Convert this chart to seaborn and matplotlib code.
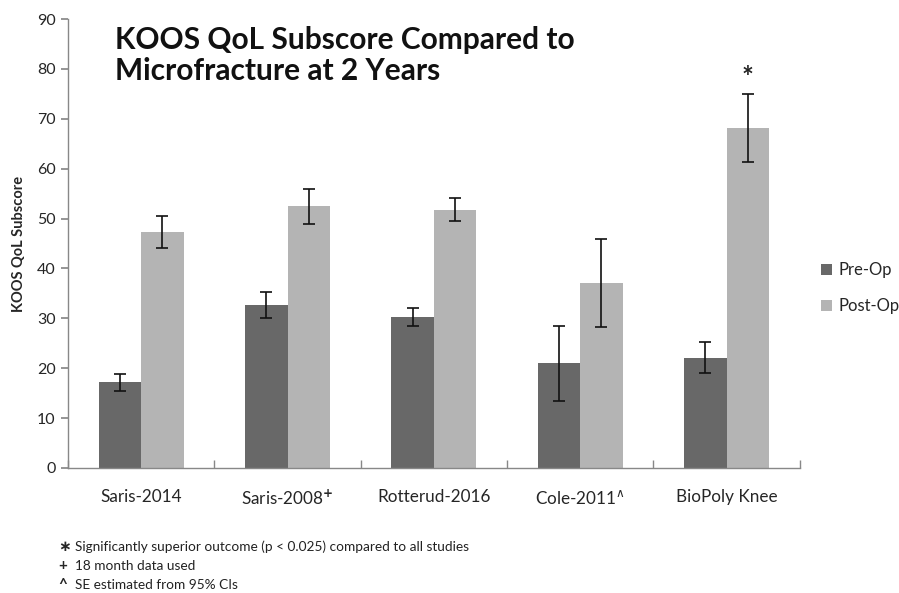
import pandas as pd
import matplotlib.pyplot as plt
import seaborn as sns

# --- data ---
studies = ['Saris-2014', 'Saris-2008$^{\\mathbf{+}}$', 'Rotterud-2016', 'Cole-2011$^{\\wedge}$', 'BioPoly Knee']
pre_op = [17.2, 32.7, 30.2, 21.0, 22.1]
post_op = [47.3, 52.5, 51.8, 37.1, 68.2]
pre_se = [1.7, 2.6, 1.8, 7.5, 3.1]
post_se = [3.2, 3.5, 2.3, 8.9, 6.8]
footnotes = [('\u2217', 'Significantly superior outcome (p < 0.025) compared to all studies'),
             ('+', '18 month data used'),
             ('^', 'SE estimated from 95% CIs')]

df = pd.DataFrame({
    'study': studies * 2,
    'phase': ['Pre-Op'] * len(studies) + ['Post-Op'] * len(studies),
    'score': pre_op + post_op,
    'se': pre_se + post_se,
})

sns.set_theme(style="white")
plt.rcParams['font.family'] = ['Lato', 'DejaVu Sans']

fig = plt.figure(figsize=(8.99, 5.93), dpi=100)
ax = fig.add_axes([0.0756, 0.2108, 0.814, 0.757])

sns.barplot(data=df, x='study', y='score', hue='phase', ax=ax,
            palette={'Pre-Op': '#686868', 'Post-Op': '#b4b4b4'},
            width=0.58, errorbar=None, saturation=1, linewidth=0)

# error bars at the centre of each bar
bars = ax.patches[:len(df)]
for bar, val, err in zip(bars, df['score'], df['se']):
    cx = bar.get_x() + bar.get_width() / 2
    ax.errorbar(cx, val, yerr=err, color='#111111', lw=1.2, capsize=4, capthick=1.2)

# significance marker over BioPoly post-op
last = bars[-1]
ax.text(last.get_x() + last.get_width() / 2, post_op[-1] + post_se[-1] + 0.6, '*',
        ha='center', va='bottom', fontsize=20, fontweight='bold', color='#222222')

ax.set_ylim(0, 90)
ax.set_yticks(range(0, 91, 10))
ax.set_xlim(-0.5, len(studies) - 0.5)
ax.set_xlabel('')
ax.set_ylabel('KOOS QoL Subscore', fontsize=10.5, fontweight='bold', labelpad=8)
ax.tick_params(axis='y', labelsize=11.5, left=True, length=5, color='#888888', pad=4)
ax.tick_params(axis='x', labelsize=12.3, bottom=False, pad=9)
ax.set_xticks(range(len(studies)), studies)
# ticks between the categories on the x-axis
ax.set_xticks([i - 0.5 for i in range(len(studies) + 1)], minor=True)
ax.tick_params(axis='x', which='minor', bottom=True, length=6, color='#888888', direction='in')

sns.despine(ax=ax)
for side in ['left', 'bottom']:
    ax.spines[side].set_color('#888888')
    ax.spines[side].set_linewidth(1.0)

ax.text(0.064, 0.985, 'KOOS QoL Subscore Compared to\nMicrofracture at 2 Years',
        transform=ax.transAxes, ha='left', va='top', fontsize=21.5, fontweight='bold',
        linespacing=1.15, color='#111111')

ax.legend(title=None, frameon=False, fontsize=12, loc='center left',
          bbox_to_anchor=(1.017, 0.40), handlelength=0.7, handleheight=0.7,
          handletextpad=0.35, labelspacing=1.2, borderpad=0.2, borderaxespad=0.3)

for i, (sym, txt) in enumerate(footnotes):
    y = (593 - 547 - i * 19) / 593
    fig.text(58 / 899, y, sym, fontsize=11, fontweight='bold', va='center', ha='left')
    fig.text(75 / 899, y, txt, fontsize=9.8, va='center', ha='left', color='#222222')

plt.savefig('out.png', dpi=100)
